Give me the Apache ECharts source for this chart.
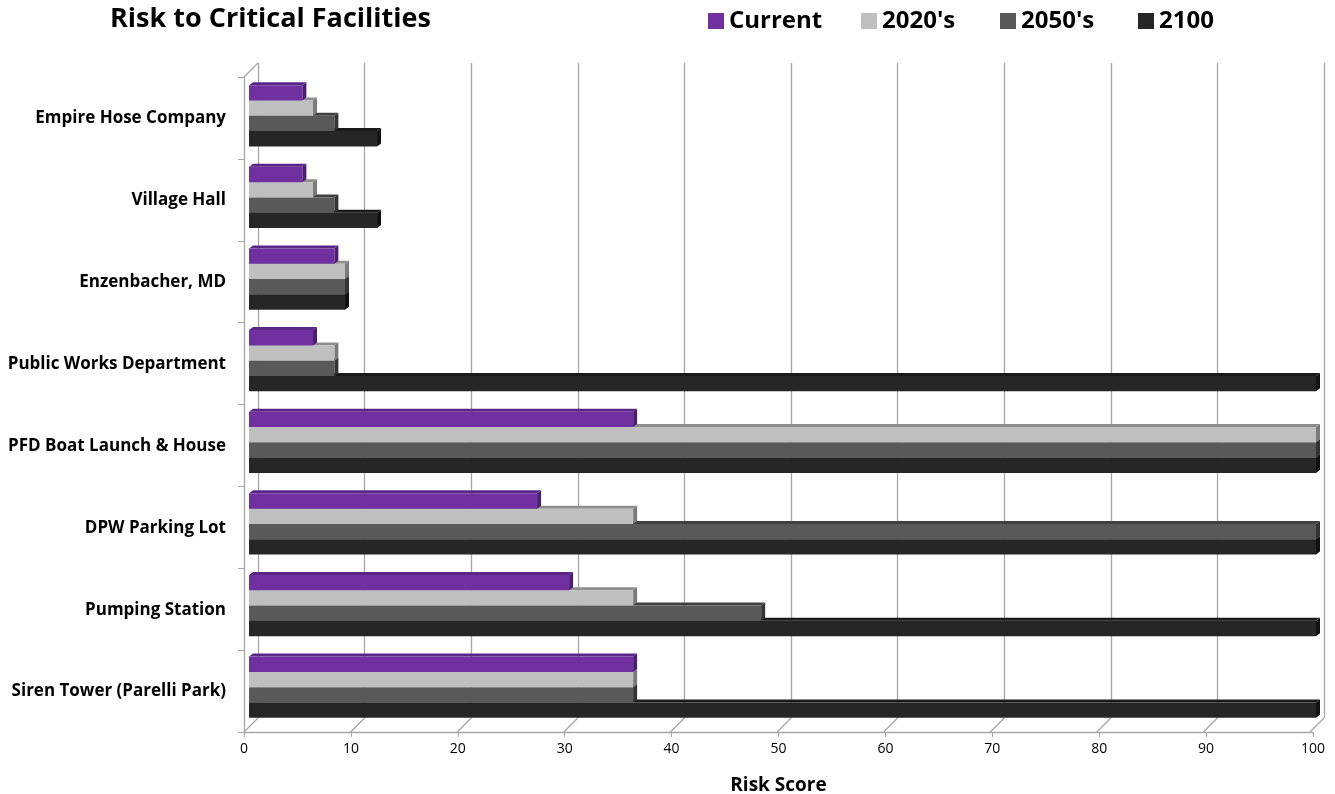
<!DOCTYPE html>
<html>
<head>
<meta charset="utf-8">
<script src="https://cdn.jsdelivr.net/npm/echarts@6/dist/echarts.min.js"></script>
<style>html,body{margin:0;padding:0;background:#fff;}#chart{width:1335px;height:794px;}</style>
</head>
<body>
<div id="chart"></div>
<script>
const categories = ['Empire Hose Company','Village Hall','Enzenbacher, MD','Public Works Department','PFD Boat Launch & House','DPW Parking Lot','Pumping Station','Siren Tower (Parelli Park)'];
const seriesNames = ['Current', "2020's", "2050's", '2100'];
const current = [5, 5, 8, 6, 36, 27, 30, 36];
const y2020s  = [6, 6, 9, 8, 100, 36, 36, 36];
const y2050s  = [8, 8, 9, 8, 100, 100, 48, 36];
const y2100   = [12, 12, 9, 100, 100, 100, 100, 100];
const xTicks = [0, 10, 20, 30, 40, 50, 60, 70, 80, 90, 100];

const values = [current, y2020s, y2050s, y2100];
const frontColors = ['#7030A0', '#BFBFBF', '#595959', '#262626'];
const topColors   = ['#5B2787', '#8E8E8E', '#404040', '#1A1A1A'];
const sideColors  = ['#4A1F70', '#7A7A7A', '#333333', '#111111'];
const legendLefts = [703, 856, 995, 1133];
const FONT = '"Open Sans"';
const DX = 4, DY = 3;

function barRenderer(i) {
  return function (params, api) {
    const v = api.value(0), j = api.value(1);
    const p0 = api.coord([0, j]);
    const p1 = api.coord([v, j]);
    const band = api.size([0, 1])[1];
    const h = band * 0.75 / 4;
    const y0 = p0[1] - band * 0.375 + i * h;
    const x0 = p0[0], x1 = p1[0];
    return {
      type: 'group',
      children: [
        { type: 'polygon', shape: { points: [[x0, y0], [x1, y0], [x1 + DX, y0 - DY], [x0 + DX, y0 - DY]] }, style: { fill: topColors[i] } },
        { type: 'polygon', shape: { points: [[x1, y0], [x1 + DX, y0 - DY], [x1 + DX, y0 + h - DY], [x1, y0 + h]] }, style: { fill: sideColors[i] } },
        { type: 'rect', shape: { x: x0, y: y0, width: x1 - x0, height: h }, style: { fill: frontColors[i] } }
      ]
    };
  };
}

const barSeries = seriesNames.map((name, i) => ({
  name: name,
  type: 'custom',
  xAxisIndex: 2,
  yAxisIndex: 2,
  z: 10 - i,
  itemStyle: { color: frontColors[i] },
  encode: { x: 0, y: 1 },
  data: categories.map((c, j) => [values[i][j], j]),
  renderItem: barRenderer(i)
}));

// depth connectors on the floor and the top-left corner of the side wall
const connectorSeries = {
  type: 'custom',
  xAxisIndex: 1,
  yAxisIndex: 1,
  silent: true,
  z: 1,
  data: xTicks.map(v => [v, 0]).concat([[0, 1]]),
  renderItem: function (params, api) {
    const p = api.coord([api.value(0), api.value(1)]);
    return { type: 'line', shape: { x1: p[0], y1: p[1], x2: p[0] - 14, y2: p[1] + 14 }, style: { stroke: '#A6A6A6', lineWidth: 1.3 } };
  }
};

const legends = seriesNames.map((name, i) => ({
  data: [name],
  left: legendLefts[i], top: 4,
  icon: 'rect', itemWidth: 16, itemHeight: 16, itemGap: 8,
  selectedMode: false,
  textStyle: { fontFamily: FONT, fontSize: 24, fontWeight: 'bold', color: '#000' }
}));

const chart = echarts.init(document.getElementById('chart'));
chart.setOption({
  backgroundColor: '#fff',
  animation: false,
  title: {
    text: 'Risk to Critical Facilities',
    left: 105, top: 1,
    textStyle: { fontFamily: FONT, fontSize: 27, fontWeight: 'bold', color: '#000' }
  },
  legend: legends,
  grid: [
    { left: 244, right: 22, top: 77, bottom: 62, containLabel: false, outerBoundsMode: 'none' },
    { left: 258, right: 11, top: 63, bottom: 76, containLabel: false, outerBoundsMode: 'none' },
    { left: 249, right: 19, top: 75, bottom: 66, containLabel: false, outerBoundsMode: 'none' }
  ],
  xAxis: [
    {
      gridIndex: 0, type: 'value', min: 0, max: 100, interval: 10,
      axisLine: { show: true, lineStyle: { color: '#A6A6A6', width: 1.3 } },
      axisTick: { show: true, length: 5, lineStyle: { color: '#A6A6A6' } },
      axisLabel: { fontFamily: FONT, fontSize: 14, color: '#000', margin: 10 },
      splitLine: { show: false },
      name: 'Risk Score', nameLocation: 'middle', nameGap: 44,
      nameTextStyle: { fontFamily: FONT, fontSize: 19, fontWeight: 'bold', color: '#000' }
    },
    {
      gridIndex: 1, type: 'value', min: 0, max: 100, interval: 10,
      axisLine: { show: false }, axisTick: { show: false }, axisLabel: { show: false },
      splitLine: { show: true, lineStyle: { color: '#A6A6A6', width: 1.3 } }
    },
    {
      gridIndex: 2, type: 'value', min: 0, max: 100, show: false
    }
  ],
  yAxis: [
    {
      gridIndex: 0, type: 'category', inverse: true, data: categories,
      axisLine: { show: true, lineStyle: { color: '#A6A6A6', width: 1.3 } },
      axisTick: { show: true, length: 6, lineStyle: { color: '#A6A6A6' } },
      axisLabel: { fontFamily: FONT, fontSize: 17, fontWeight: 'bold', color: '#000', margin: 18, verticalAlign: 'top', padding: [-8, 0, 0, 0] }
    },
    {
      gridIndex: 1, type: 'value', min: 0, max: 1, show: false
    },
    {
      gridIndex: 2, type: 'category', inverse: true, data: categories, show: false
    }
  ],
  series: barSeries.concat([connectorSeries])
});
</script>
</body>
</html>
